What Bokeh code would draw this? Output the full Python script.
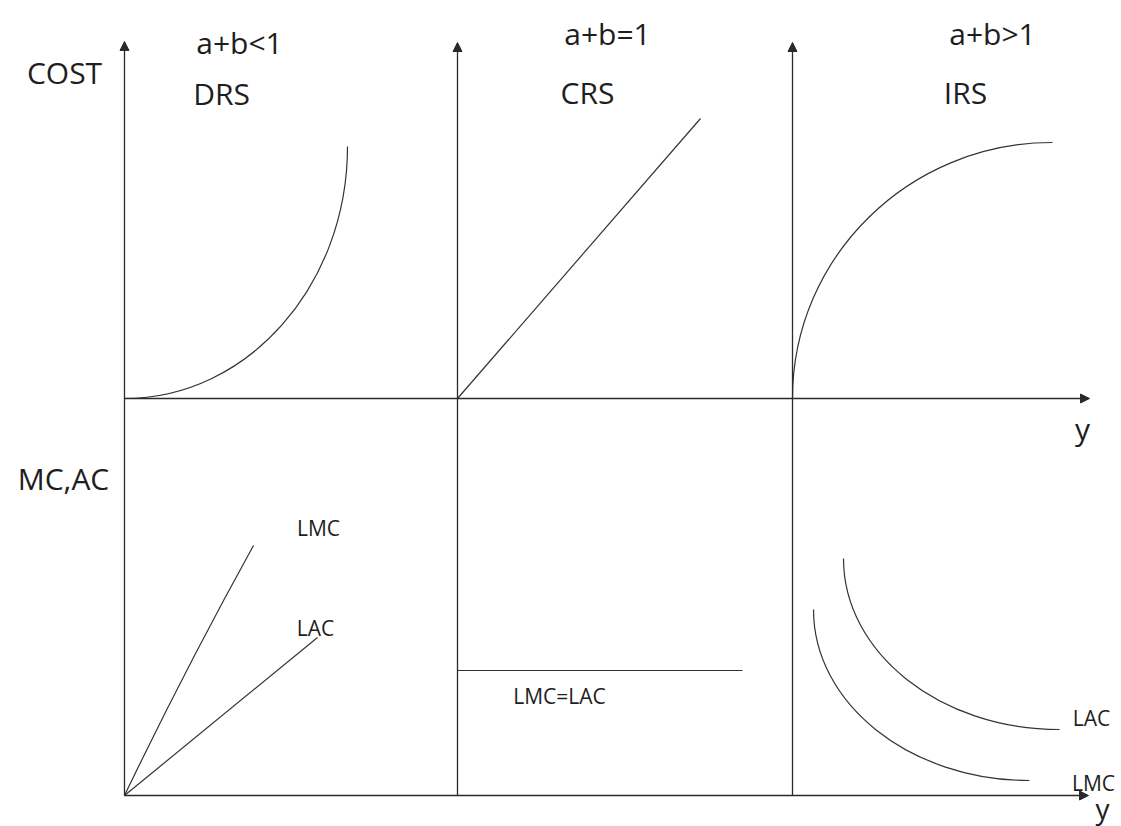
from bokeh.plotting import figure
from bokeh.models import Range1d, Arrow, NormalHead, ColumnDataSource
from bokeh.core.properties import value
from bokeh.embed import file_html
from bokeh.resources import INLINE

# ---- diagram data (diagram units = reference pixel grid, y downward) ----
panel_x = [124, 457, 792]          # vertical axes (origins of the three panels)
axis_top = [41, 42, 42]            # arrow tips of vertical axes
top_base = 398                     # horizontal axis of the cost panel
bottom_base = 795                  # horizontal axis of the MC/AC panel
h_axis_end = [1089, 1088]          # arrow tips of horizontal axes

# cost curves (quarter-ellipse arcs: start, end)
drs_start = (124, 398); drs_end = (347, 146)      # convex cost (DRS)
irs_start = (792, 398); irs_end = (1052, 142)     # concave cost (IRS)
crs_x = [457, 700]; crs_y = [398, 118]            # linear cost (CRS)

# marginal / average cost
drs_lmc = dict(x0=124, y0=795, x1=253, y1=545, cx=185, cy=668)
drs_lac_x = [124, 317]; drs_lac_y = [795, 637]
crs_flat_x = [457, 742]; crs_flat_y = [670, 670]
irs_lac_start = (843, 558); irs_lac_end = (1059, 729)
irs_lmc_start = (813, 609); irs_lmc_end = (1029, 780)

big_labels = ["COST", "a+b<1", "DRS", "a+b=1", "CRS", "a+b>1", "IRS", "MC,AC", "y"]
big_x = [64, 239, 221, 607, 587, 992, 965, 63, 1082]
big_y = [72, 42, 93, 33, 92, 33, 92, 478, 428]

bottom_y_label = ["y"]
bottom_y_x = [1102]
bottom_y_y = [807]

small_labels = ["LMC", "LAC", "LMC=LAC", "LAC", "LMC"]
small_x = [318, 315, 559, 1091, 1093]
small_y = [527, 627, 695, 717, 782]

K = 0.5523  # cubic-bezier approximation constant for a quarter ellipse

W, H = 1121, 826
p = figure(width=W, height=H, output_backend="svg", toolbar_location=None,
           x_range=Range1d(0, W), y_range=Range1d(H, 0),
           x_axis_location=None, y_axis_location=None, min_border=0)
p.grid.visible = False
p.outline_line_color = None
p.background_fill_color = "white"

AX = "#2a2a2a"
CV = "#333333"

# axes with arrowheads
for x, t in zip(panel_x, axis_top):
    p.add_layout(Arrow(x_start=x, y_start=bottom_base, x_end=x, y_end=t,
                       line_color=AX, line_width=1.3,
                       end=NormalHead(size=9, fill_color=AX, line_color=AX, line_width=1)))
for yb, xe in zip([top_base, bottom_base], h_axis_end):
    p.add_layout(Arrow(x_start=panel_x[0], y_start=yb, x_end=xe, y_end=yb,
                       line_color=AX, line_width=1.3,
                       end=NormalHead(size=9, fill_color=AX, line_color=AX, line_width=1)))

def quarter(start, end, start_horizontal):
    (x0, y0), (x1, y1) = start, end
    if start_horizontal:
        return dict(x0=x0, y0=y0, x1=x1, y1=y1,
                    cx0=x0 + K * (x1 - x0), cy0=y0, cx1=x1, cy1=y1 + K * (y0 - y1))
    return dict(x0=x0, y0=y0, x1=x1, y1=y1,
                cx0=x0, cy0=y0 + K * (y1 - y0), cx1=x1 + K * (x0 - x1), cy1=y1)

arcs = [quarter(drs_start, drs_end, True),
        quarter(irs_start, irs_end, False),
        quarter(irs_lac_start, irs_lac_end, False),
        quarter(irs_lmc_start, irs_lmc_end, False)]
bz = ColumnDataSource({k: [a[k] for a in arcs] for k in arcs[0]})
p.bezier(x0="x0", y0="y0", x1="x1", y1="y1", cx0="cx0", cy0="cy0", cx1="cx1", cy1="cy1",
         source=bz, line_color=CV, line_width=1.2)

p.line(crs_x, crs_y, line_color=CV, line_width=1.2)
p.quadratic(x0=[drs_lmc["x0"]], y0=[drs_lmc["y0"]], x1=[drs_lmc["x1"]], y1=[drs_lmc["y1"]],
            cx=[drs_lmc["cx"]], cy=[drs_lmc["cy"]], line_color=CV, line_width=1.2)
p.line(drs_lac_x, drs_lac_y, line_color=CV, line_width=1.2)
p.line(crs_flat_x, crs_flat_y, line_color=CV, line_width=1.2)

p.text(x=big_x, y=big_y, text=big_labels, text_font=value("Open Sans"),
       text_font_size=value("30px"), text_align="center", text_baseline="alphabetic",
       text_color="#1e1e1e")
p.text(x=bottom_y_x, y=bottom_y_y, text=bottom_y_label, text_font=value("Open Sans"),
       text_font_size=value("28px"), text_align="center", text_baseline="alphabetic",
       text_color="#1e1e1e")
p.text(x=small_x, y=small_y, text=small_labels, text_font=value("Open Sans"),
       text_font_size=value("21px"), text_align="center", text_baseline="alphabetic",
       text_color="#1e1e1e")

open("out.html", "w").write(file_html(p, INLINE))
